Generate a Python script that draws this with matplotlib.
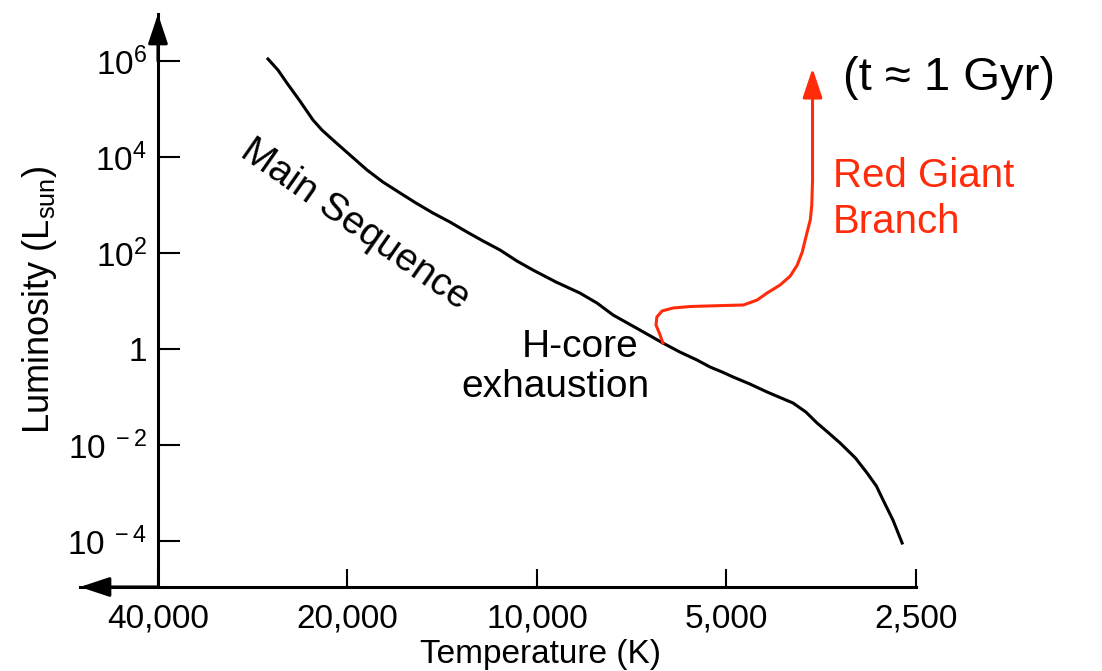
import numpy as np
import matplotlib.pyplot as plt
from matplotlib.ticker import NullLocator

plt.rcParams['font.family'] = ['Liberation Sans', 'DejaVu Sans']
plt.rcParams['mathtext.fontset'] = 'custom'
plt.rcParams['mathtext.rm'] = 'Liberation Sans'
plt.rcParams['mathtext.it'] = 'Liberation Sans:italic'
plt.rcParams['mathtext.bf'] = 'Liberation Sans:bold'

# main sequence (T in K, log10 of L in L_sun)
ms_temp = [26750, 25790, 24960, 23800, 22690, 21960, 21090, 19820, 18620, 17570,
           16500, 15570, 14630, 13750, 12920, 12180, 11450, 10760, 10150, 9330,
           8550, 8030, 7570, 6910, 6310, 5930, 5570, 5310, 5080, 4880,
           4590, 4310, 3920, 3740, 3590, 3440, 3300, 3120, 2990, 2890,
           2820, 2720, 2630]
ms_logL = [6.042, 5.812, 5.542, 5.167, 4.771, 4.563, 4.354, 4.042, 3.729, 3.479,
           3.250, 3.042, 2.833, 2.646, 2.438, 2.250, 2.063, 1.833, 1.646, 1.396,
           1.167, 0.958, 0.708, 0.417, 0.125, -0.063, -0.229, -0.375, -0.479, -0.583,
           -0.729, -0.896, -1.125, -1.313, -1.542, -1.750, -1.958, -2.271, -2.583, -2.854,
           -3.146, -3.563, -4.042]

# red giant branch track leaving the main sequence
rgb_temp = [6310, 6375, 6470, 6450, 6330, 6080, 5710, 5370, 4700, 4470,
            4310, 4110, 3960, 3860, 3790, 3740, 3680, 3660, 3650, 3650]
rgb_logL = [0.125, 0.292, 0.50, 0.667, 0.792, 0.854, 0.885, 0.896, 0.917, 1.02,
            1.167, 1.333, 1.52, 1.75, 2.02, 2.33, 2.69, 3.0, 3.52, 5.85]

temp_ticks = [40000, 20000, 10000, 5000, 2500]
temp_labels = ['40,000', '20,000', '10,000', '5,000', '2,500']
lum_ticks = [1e6, 1e4, 1e2, 1, 1e-2, 1e-4]
lum_labels = [r'$10^{6}$', r'$10^{4}$', r'$10^{2}$', '1', r'$10^{\ -2}$', r'$10^{\ -4}$']

red = '#ff2b0a'
W, H = 1102, 671

fig = plt.figure(figsize=(W / 100, H / 100), dpi=100)
ax = fig.add_axes([80 / W, 84 / H, 836 / W, 573 / H])

ax.set_xscale('log')
ax.set_yscale('log')
xlo, xhi = 53200, 2500
ylo, yhi = 10 ** -4.958, 10 ** 6.979
ax.set_xlim(xlo, xhi)
ax.set_ylim(ylo, yhi)

ax.plot(ms_temp, 10 ** np.array(ms_logL), color='black', lw=2.2,
        solid_joinstyle='round')
rl = 10 ** np.array(rgb_logL)
ax.plot(rgb_temp[:-1], rl[:-1], color=red, lw=2.2, solid_joinstyle='round')
ax.annotate('', xy=(rgb_temp[-1], rl[-1]), xytext=(rgb_temp[-2], rl[-2]),
            arrowprops=dict(arrowstyle='-|>,head_length=0.9,head_width=0.3',
                            color=red, lw=2.2, shrinkA=0, shrinkB=0,
                            mutation_scale=20))

# axes: spines plus arrow heads
for s in ['top', 'right']:
    ax.spines[s].set_visible(False)
ax.spines['left'].set_position(('data', 40000))
ax.spines['left'].set_linewidth(2.2)
ax.spines['bottom'].set_linewidth(2.2)
arr = dict(arrowstyle='-|>,head_length=0.9,head_width=0.3', color='black',
           lw=2.2, shrinkA=0, shrinkB=0, mutation_scale=20)
ax.annotate('', xy=(40000, yhi), xytext=(40000, 1e6), arrowprops=arr,
            annotation_clip=False)
ax.annotate('', xy=(xlo, ylo), xytext=(40000, ylo), arrowprops=arr,
            annotation_clip=False)

ax.xaxis.set_minor_locator(NullLocator())
ax.yaxis.set_minor_locator(NullLocator())
ax.set_xticks(temp_ticks)
ax.set_xticklabels(temp_labels)
ax.set_yticks(lum_ticks)
ax.set_yticklabels(lum_labels)
ax.tick_params(axis='x', direction='in', length=13, width=1.5, pad=12, labelsize=24)
ax.tick_params(axis='y', direction='in', length=16, width=1.5, pad=8, labelsize=24)

fig.text(540 / W, 1 - 663 / H, 'Temperature (K)', ha='center', va='baseline', fontsize=24)
fig.text(40 / W, 1 - 300 / H, r'Luminosity (L$_{\rm sun}$)', rotation=90,
         ha='center', va='center', fontsize=26)

fig.text(355 / W, 1 - 225 / H, 'Main Sequence', rotation=-35, rotation_mode='anchor',
         ha='center', va='center', fontsize=28)
fig.text(580 / W, 1 - 357 / H, 'H-core', ha='center', va='baseline', fontsize=28)
fig.text(555 / W, 1 - 397 / H, 'exhaustion', ha='center', va='baseline', fontsize=28)
fig.text(833 / W, 1 - 187 / H, 'Red Giant', color=red, va='baseline', fontsize=29)
fig.text(833 / W, 1 - 233 / H, 'Branch', color=red, va='baseline', fontsize=29)
fig.text(843 / W, 1 - 90 / H, '(t \u2248 1 Gyr)', va='baseline', fontsize=34)

fig.savefig('out.png', dpi=100)
